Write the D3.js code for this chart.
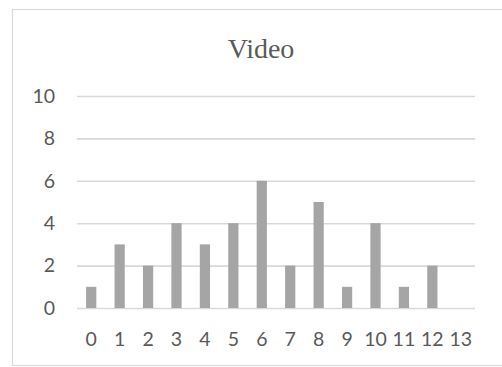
<!DOCTYPE html>
<html><head><meta charset="utf-8">
<script src="https://cdn.jsdelivr.net/npm/d3@7"></script>
<style>body{margin:0;background:#fff}svg{display:block}</style>
</head><body>
<svg id="c" width="502" height="367"></svg>
<script>
const title = "Video";
const categories = ["0","1","2","3","4","5","6","7","8","9","10","11","12","13"];
const values = [1,3,2,4,3,4,6,2,5,1,4,1,2,0];
const yTicks = [0,2,4,6,8,10];

const svg = d3.select("#c");
svg.append("rect").attr("x",12.5).attr("y",9.5).attr("width",520).attr("height",356)
  .attr("fill","#fff").attr("stroke","#d9d9d9").attr("stroke-width",1.2);

const x = d3.scaleBand().domain(categories).range([77,475]).paddingInner(0.64).paddingOuter(0.32);
const y = d3.scaleLinear().domain([0,10]).range([308,96]);

const font = "Lato, 'Open Sans', sans-serif";
const yAxis = d3.axisLeft(y).tickValues(yTicks).tickSize(-(475-77)).tickPadding(22);
const gy = svg.append("g").attr("transform","translate(77,0)").call(yAxis);
gy.select(".domain").remove();
gy.selectAll(".tick line").attr("stroke","#d9d9d9").attr("stroke-width",1.6);
gy.selectAll(".tick text").attr("fill","#595959").style("font-family",font).style("font-size","19.5px");

svg.append("g").selectAll("rect").data(values).join("rect")
  .attr("x",(d,i)=>x(categories[i])).attr("width",x.bandwidth())
  .attr("y",d=>y(d)).attr("height",d=>y(0)-y(d)).attr("fill","#a5a5a5");

const xAxis = d3.axisBottom(x).tickSize(0).tickPadding(24);
const gx = svg.append("g").attr("transform","translate(0,308)").call(xAxis);
gx.select(".domain").remove();
gx.selectAll(".tick text").attr("fill","#595959").style("font-family",font).style("font-size","19.5px");

svg.append("text").attr("x",261).attr("y",58).attr("text-anchor","middle")
  .attr("fill","#595959").style("font-family","'Liberation Serif', 'Times New Roman', serif")
  .style("font-size","28px").text(title);
</script>
</body></html>
